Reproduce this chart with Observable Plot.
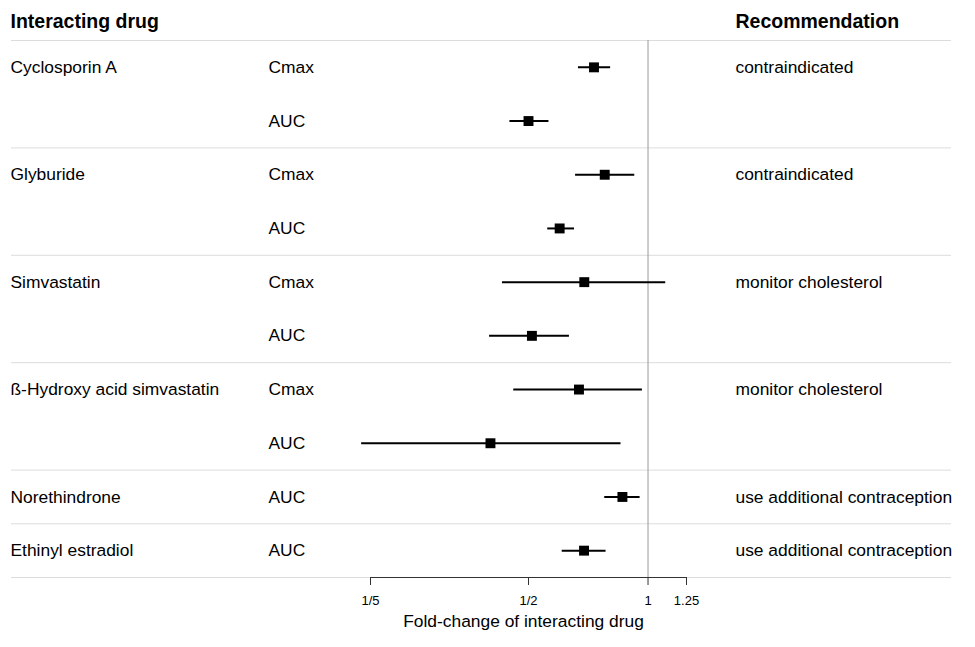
<!DOCTYPE html>
<html><head><meta charset="utf-8">
<script src="https://cdn.jsdelivr.net/npm/d3@7"></script>
<script src="https://cdn.jsdelivr.net/npm/@observablehq/plot@0.6"></script>
<style>body{margin:0;background:#fff} svg{display:block}</style>
</head><body><div id="chart"></div>
<script>
const drugs = ["Cyclosporin A","Cyclosporin A","Glyburide","Glyburide","Simvastatin","Simvastatin","ß-Hydroxy acid simvastatin","ß-Hydroxy acid simvastatin","Norethindrone","Ethinyl estradiol"];
const params = ["Cmax","AUC","Cmax","AUC","Cmax","AUC","Cmax","AUC","AUC","AUC"];
const estimate = [0.731,0.50,0.778,0.599,0.691,0.510,0.670,0.401,0.862,0.690];
const lower    = [0.668,0.449,0.657,0.559,0.430,0.399,0.459,0.190,0.778,0.608];
const upper    = [0.805,0.563,0.926,0.653,1.108,0.634,0.968,0.855,0.955,0.784];
const groupNames = ["Cyclosporin A","Glyburide","Simvastatin","ß-Hydroxy acid simvastatin","Norethindrone","Ethinyl estradiol"];
const recommendations = ["contraindicated","contraindicated","monitor cholesterol","monitor cholesterol","use additional contraception","use additional contraception"];
const tickValues = [0.2, 0.5, 1, 1.25];
const tickLabels = ["1/5", "1/2", "1", "1.25"];
const headers = ["Interacting drug", "Recommendation"];
const axisLabel = "Fold-change of interacting drug";

const rows = drugs.map((d, i) => ({i, drug: d, param: params[i], est: estimate[i], lo: lower[i], hi: upper[i]}));
const firstRows = groupNames.map((g, k) => {
  const i = drugs.indexOf(g);
  return {i, drug: g, rec: recommendations[k]};
});
const ticks = tickValues.map((v, i) => ({v, label: tickLabels[i]}));
const boundaries = firstRows.map(r => r.i - 0.5).concat([rows.length - 0.5]);
const fs = 17.4;
const hfs = 19.5;

const chart = Plot.plot({
  width: 975,
  height: 647,
  marginTop: 40,
  marginBottom: 70,
  marginLeft: 0,
  marginRight: 0,
  style: {fontFamily: "Liberation Sans, Arial, sans-serif", background: "#fff", color: "#000"},
  x: {type: "log", domain: [tickValues[0], tickValues[tickValues.length - 1]], range: [370, 686], axis: null},
  y: {domain: [rows.length - 0.5, -0.5], axis: null},
  marks: [
    Plot.ruleY(boundaries, {stroke: "#dcdcdc", strokeWidth: 1, insetLeft: 11, insetRight: 24}),
    Plot.ruleX([1], {stroke: "#9a9a9a", strokeWidth: 1}),
    Plot.ruleY([rows.length - 0.5], {x1: tickValues[0], x2: tickValues[tickValues.length - 1], stroke: "#333", strokeWidth: 1}),
    Plot.axisX({ticks: tickValues, tickFormat: () => "", tickSize: 8, label: null, stroke: "#333"}),
    Plot.text(ticks, {x: "v", text: "label", frameAnchor: "bottom", dy: 27.8, fontSize: 13, fill: "#000"}),
    Plot.text([axisLabel], {frameAnchor: "bottom", dx: 35.5, dy: 49.5, fontSize: fs, fill: "#000"}),
    Plot.text([headers[0]], {frameAnchor: "top-left", dx: 10, dy: -26, textAnchor: "start", fontWeight: "bold", fontSize: hfs, fill: "#000"}),
    Plot.text([headers[1]], {frameAnchor: "top-left", dx: 735, dy: -26, textAnchor: "start", fontWeight: "bold", fontSize: hfs, fill: "#000"}),
    Plot.text(firstRows, {y: "i", text: "drug", frameAnchor: "left", dx: 10, textAnchor: "start", fontSize: fs, fill: "#000"}),
    Plot.text(rows, {y: "i", text: "param", frameAnchor: "left", dx: 268, textAnchor: "start", fontSize: fs, fill: "#000"}),
    Plot.text(firstRows, {y: "i", text: "rec", frameAnchor: "left", dx: 735, textAnchor: "start", fontSize: fs, fill: "#000"}),
    Plot.ruleY(rows, {y: "i", x1: "lo", x2: "hi", stroke: "#000", strokeWidth: 2}),
    Plot.dot(rows, {x: "est", y: "i", symbol: "square", r: 5.6, fill: "#000", stroke: "none"})
  ]
});
document.getElementById("chart").appendChild(chart);
</script>
</body></html>
